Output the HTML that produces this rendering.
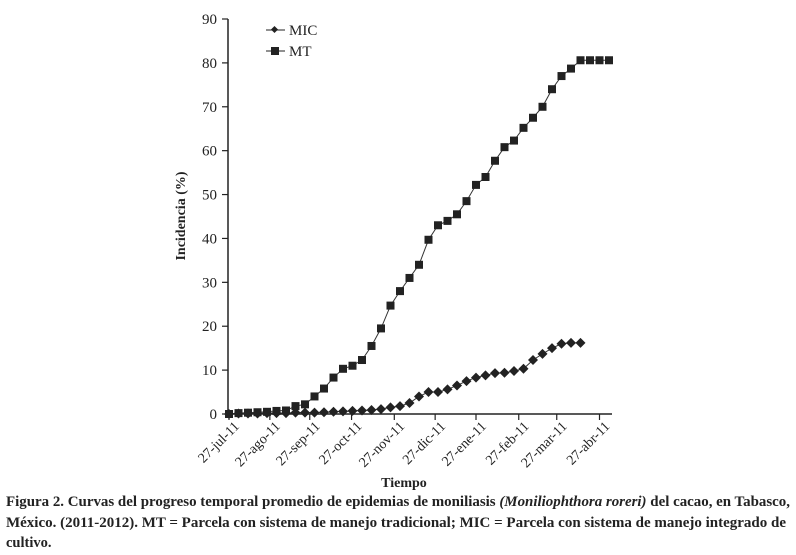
<!DOCTYPE html>
<html><head><meta charset="utf-8"><style>
html,body{margin:0;padding:0;background:#fff;}
svg{display:block;font-family:"Liberation Serif",serif;}
</style></head><body>
<svg id="chart" width="796" height="555" viewBox="0 0 796 555">
<g id="axes"></g>
<g id="series"></g>
<g>
  <g>
    <line x1="266" y1="30" x2="285" y2="30" stroke="#222" stroke-width="1"/>
    <rect x="272" y="27" width="5" height="5" fill="#222" transform="rotate(45 274.5 29.5)"/>
    <text x="289" y="35" font-size="15" fill="#222">MIC</text>
  </g>
  <g>
    <line x1="266" y1="51" x2="285" y2="51" stroke="#222" stroke-width="1"/>
    <rect x="271" y="47" width="8" height="8" fill="#222"/>
    <text x="289" y="56" font-size="15" fill="#222">MT</text>
  </g>
</g>
<text x="0" y="0" transform="translate(185,216) rotate(-90)" text-anchor="middle" font-size="14" font-weight="bold" fill="#222">Incidencia (%)</text>
<text x="404" y="487" text-anchor="middle" font-size="14" font-weight="bold" fill="#222">Tiempo</text>
<g font-size="14.5" font-weight="bold" fill="#222">
<text x="6" y="506" textLength="784" lengthAdjust="spacingAndGlyphs">Figura 2. Curvas del progreso temporal promedio de epidemias de moniliasis <tspan font-style="italic">(Moniliophthora roreri)</tspan> del cacao, en Tabasco,</text>
<text x="6" y="527" textLength="780" lengthAdjust="spacingAndGlyphs">México. (2011-2012). MT = Parcela con sistema de manejo tradicional; MIC = Parcela con sistema de manejo integrado de</text>
<text x="6" y="547">cultivo.</text>
</g>
</svg>
<script>
const yTicks = [0,10,20,30,40,50,60,70,80,90];
const xTickLabels = ["27-jul-11","27-ago-11","27-sep-11","27-oct-11","27-nov-11","27-dic-11","27-ene-11","27-feb-11","27-mar-11","27-abr-11"];
const xTickIndex = [0,4.3,8.5,12.9,17.4,21.7,26,30.5,34.5,39];
const mtValues = [0,0.2,0.3,0.4,0.5,0.7,0.8,1.8,2.2,4,5.8,8.3,10.3,11,12.3,15.5,19.5,24.7,28,31,34,39.7,43,44,45.5,48.5,52.2,54,57.7,60.8,62.3,65.2,67.5,70,74,77,78.7,80.6,80.6,80.6,80.6];
const micValues = [0,0.1,0.1,0.1,0.2,0.2,0.2,0.3,0.3,0.3,0.4,0.5,0.6,0.7,0.8,0.9,1.1,1.5,1.8,2.5,4,5,5,5.6,6.5,7.5,8.3,8.8,9.3,9.4,9.8,10.3,12.3,13.7,15,16,16.2,16.2];

const NS="http://www.w3.org/2000/svg";
const x0=229, step=9.5, y0=414, yTop=19, yMax=90;
function xs(i){return x0+i*step;}
function ys(v){return y0-(v/yMax)*(y0-yTop);}
function mk(tag,attrs,parent){const e=document.createElementNS(NS,tag);for(const k in attrs)e.setAttribute(k,attrs[k]);parent.appendChild(e);return e;}
const axes=document.getElementById('axes');
const series=document.getElementById('series');
const yl=mk('line',{x1:228,y1:yTop,x2:228,y2:y0,stroke:'#222','stroke-width':1.5},axes);


const xl=mk('line',{x1:228,y1:y0,x2:612,y2:y0,stroke:'#222','stroke-width':1.5},axes);


yTicks.forEach(v=>{
  const y=ys(v);
  mk('line',{x1:222,y1:y,x2:228,y2:y,stroke:'#222','stroke-width':1.2},axes);
  const t=mk('text',{x:217,y:y+5,'text-anchor':'end','font-size':15,fill:'#222'},axes);
  t.textContent=v;
  
  
});
xTickLabels.forEach((lab,k)=>{
  const x=xs(xTickIndex[k]);
  mk('line',{x1:x,y1:y0,x2:x,y2:y0+6,stroke:'#222','stroke-width':1.2},axes);
  const t=mk('text',{x:0,y:0,'text-anchor':'end','font-size':14,fill:'#222',transform:`translate(${x+11},${y0+13}) rotate(-45)`},axes);
  t.textContent=lab;
  
  
});
function drawSeries(vals,name,shape){
  const g=mk('g',{},series);
  
  
  const pts=vals.map((v,i)=>xs(i)+','+ys(v)).join(' ');
  mk('polyline',{points:pts,fill:'none',stroke:'#333','stroke-width':1},g);
  vals.forEach((v,i)=>{
    const cx=xs(i), cy=ys(v);
    let m;
    if(shape==='square') m=mk('rect',{x:cx-4,y:cy-4,width:8,height:8,fill:'#222'},g);
    else m=mk('polygon',{points:`${cx},${cy-5} ${cx+5},${cy} ${cx},${cy+5} ${cx-5},${cy}`,fill:'#222'},g);
    
    
  });
}
drawSeries(mtValues,'series-mt','square');
drawSeries(micValues,'series-mic','diamond');
</script>
</body></html>
